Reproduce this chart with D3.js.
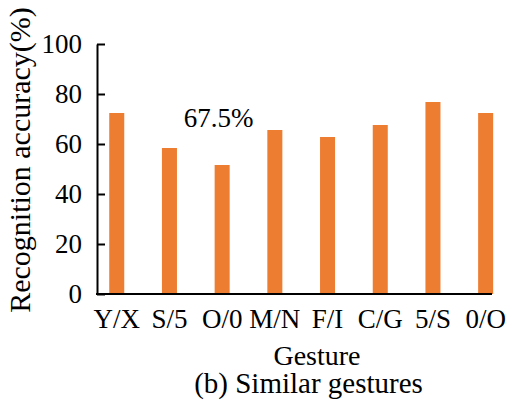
<!DOCTYPE html>
<html>
<head>
<meta charset="utf-8">
<script src="https://cdn.jsdelivr.net/npm/d3@7"></script>
</head>
<body style="margin:0;padding:0;background:#fff">
<svg id="chart" width="515" height="400"></svg>
<script>
// Recognition accuracy for pairs of similar gestures
const gestures = ["Y/X", "S/5", "O/0", "M/N", "F/I", "C/G", "5/S", "0/O"];
const accuracy = [72.4, 58.4, 51.6, 65.6, 62.8, 67.6, 76.8, 72.4];
const yTicks = [0, 20, 40, 60, 80, 100];
const noteText = "67.5%";
const xTitle = "Gesture";
const yTitle = "Recognition accuracy(%)";
const caption = "(b) Similar gestures";

const FONT = "'Liberation Serif', 'Times New Roman', serif";
const svg = d3.select("#chart");
const axisLeft = 97, axisRight = 492, plotTop = 44, plotBottom = 294;

const x = d3.scaleBand()
  .domain(gestures)
  .range([90.4, 512])
  .paddingInner(0.715)
  .paddingOuter(0.3575);

const y = d3.scaleLinear().domain([0, 100]).range([plotBottom, plotTop]);

// bars
svg.append("g").selectAll("rect")
  .data(gestures)
  .join("rect")
  .attr("x", d => x(d))
  .attr("width", x.bandwidth())
  .attr("y", (d, i) => y(accuracy[i]))
  .attr("height", (d, i) => y(0) - y(accuracy[i]))
  .attr("fill", "#ED7D31");

// y axis with inward ticks
const yAxis = svg.append("g")
  .attr("transform", `translate(${axisLeft},0)`)
  .call(d3.axisLeft(y).tickValues(yTicks).tickSizeInner(-8).tickSizeOuter(0).tickPadding(15));
yAxis.select(".domain").attr("stroke", "#000").attr("stroke-width", 2);
yAxis.selectAll(".tick line").attr("stroke", "#000").attr("stroke-width", 2);
yAxis.selectAll(".tick text")
  .attr("fill", "#000")
  .style("font-family", FONT)
  .style("font-size", "27px");

// x axis baseline
svg.append("line")
  .attr("x1", axisLeft - 1).attr("x2", axisRight)
  .attr("y1", y(0)).attr("y2", y(0))
  .attr("stroke", "#000").attr("stroke-width", 2);

// category labels
svg.append("g").selectAll("text")
  .data(gestures)
  .join("text")
  .attr("x", d => x(d) + x.bandwidth() / 2)
  .attr("y", 328)
  .attr("text-anchor", "middle")
  .style("font-family", FONT)
  .style("font-size", "27px")
  .text(d => d);

// annotation
svg.append("text")
  .attr("x", 218.5).attr("y", 126.5)
  .attr("text-anchor", "middle")
  .style("font-family", FONT)
  .style("font-size", "27px")
  .text(noteText);

// axis titles
svg.append("text")
  .attr("x", 317).attr("y", 365)
  .attr("text-anchor", "middle")
  .style("font-family", FONT)
  .style("font-size", "28px")
  .text(xTitle);

svg.append("text")
  .attr("transform", "translate(30,160) rotate(-90)")
  .attr("text-anchor", "middle")
  .style("font-family", FONT)
  .style("font-size", "30px")
  .text(yTitle);

svg.append("text")
  .attr("x", 308.5).attr("y", 393)
  .attr("text-anchor", "middle")
  .style("font-family", FONT)
  .style("font-size", "29px")
  .text(caption);
</script>
</body>
</html>
